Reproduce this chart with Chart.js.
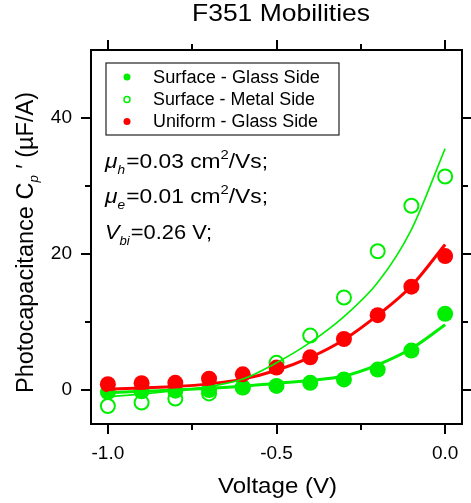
<!DOCTYPE html>
<html>
<head>
<meta charset="utf-8">
<script src="https://cdn.jsdelivr.net/npm/chart.js@4.4.1/dist/chart.umd.min.js"></script>
<style>
  html, body { margin: 0; padding: 0; background: #ffffff; }
  #c { display: block; }
</style>
</head>
<body>
<canvas id="c" width="471" height="503"></canvas>
<script>
// ---- data ----
const voltages = [-1.0, -0.9, -0.8, -0.7, -0.6, -0.5, -0.4, -0.3, -0.2, -0.1, 0.0];
const surfaceGlass = [-0.3, -0.2, -0.1, 0.0, 0.35, 0.6, 1.05, 1.55, 3.0, 5.8, 11.2];
const surfaceMetal = [-2.35, -1.85, -1.25, -0.5, 0.4, 4.0, 8.0, 13.6, 20.4, 27.1, 31.4];
const uniformGlass = [0.85, 1.0, 1.05, 1.65, 2.3, 3.3, 4.8, 7.5, 11.0, 15.2, 19.7];
const fitSurfaceGlass = [-0.4, -0.2, 0.0, 0.25, 0.55, 1.0, 1.4, 2.05, 3.7, 6.1, 9.6];
const fitSurfaceMetal = [-1.0, -0.6, -0.1, 0.5, 1.6, 4.0, 7.0, 10.8, 15.8, 23.6, 35.5];
const fitUniformGlass = [0.1, 0.3, 0.5, 0.9, 1.6, 2.9, 4.8, 7.4, 11.0, 15.3, 21.4];
const seriesNames = ['Surface - Glass Side', 'Surface - Metal Side', 'Uniform - Glass Side'];
const xTickValues = [-1.0, -0.5, 0.0];
const xMinorTicks = [-0.75, -0.25];
const yTickValues = [0, 20, 40];
const yMinorTicks = [10, 30];

const GREEN = '#00ee00';
const RED = '#ff0000';
const FONT = '"Liberation Sans", Arial, sans-serif';

const pts = arr => voltages.map((v, i) => ({ x: v, y: arr[i] }));

function richWidth(ctx, segs) {
  let w = 0;
  for (const s of segs) {
    ctx.font = (s[2] ? 'italic ' : '') + s[1] + 'px ' + FONT;
    w += ctx.measureText(s[0]).width + (s[4] || 0);
  }
  return w;
}
// draws rich text starting at x (or centred when align === 'center'),
// stretched horizontally so that it spans targetW pixels
function drawRich(ctx, x, y, segs, targetW, align) {
  const w = richWidth(ctx, segs);
  const sx = targetW ? targetW / w : 1;
  ctx.save();
  const startX = align === 'center' ? x - (w * sx) / 2 : x;
  ctx.translate(startX, y);
  ctx.scale(sx, 1);
  ctx.textBaseline = 'alphabetic';
  ctx.textAlign = 'left';
  let cx = 0;
  for (const s of segs) {
    ctx.font = (s[2] ? 'italic ' : '') + s[1] + 'px ' + FONT;
    ctx.fillText(s[0], cx, s[3] || 0);
    cx += ctx.measureText(s[0]).width + (s[4] || 0);
  }
  ctx.restore();
}

const decor = {
  id: 'decor',
  afterDraw(chart) {
    const ctx = chart.ctx;
    const a = chart.chartArea;
    const xs = chart.scales.x, ys = chart.scales.y;
    ctx.save();
    ctx.fillStyle = '#000';
    ctx.strokeStyle = '#000';
    // frame
    ctx.lineWidth = 2;
    ctx.strokeRect(a.left, a.top, a.right - a.left, a.bottom - a.top);
    // ticks
    const major = 10, minor = 6;
    ctx.lineWidth = 2;
    ctx.beginPath();
    const xt = (v, len) => {
      const px = Math.round(xs.getPixelForValue(v));
      ctx.moveTo(px, a.bottom); ctx.lineTo(px, a.bottom + len);
      ctx.moveTo(px, a.top); ctx.lineTo(px, a.top - len);
    };
    const yt = (v, len) => {
      const py = Math.round(ys.getPixelForValue(v));
      ctx.moveTo(a.left, py); ctx.lineTo(a.left - len, py);
      ctx.moveTo(a.right, py); ctx.lineTo(a.right + len, py);
    };
    xTickValues.forEach(v => xt(v, major));
    xMinorTicks.forEach(v => xt(v, minor));
    yTickValues.forEach(v => yt(v, major));
    yMinorTicks.forEach(v => yt(v, minor));
    ctx.stroke();

    // title
    drawRich(ctx, 281, 21, [['F351 Mobilities', 24, false, 0]], 178, 'center');
    // x title
    drawRich(ctx, 277.5, 493, [['Voltage (V)', 22, false, 0]], 119, 'center');
    // y title
    ctx.save();
    ctx.translate(33, 242.5);
    ctx.rotate(-Math.PI / 2);
    drawRich(ctx, 0, 0, [['Photocapacitance C', 23, false, 0], ['p', 13, true, 5], [' \u2032 (\u00b5F/A)', 23, false, 0]], 301, 'center');
    ctx.restore();

    // legend
    ctx.lineWidth = 1.2;
    ctx.strokeStyle = '#222';
    ctx.strokeRect(106, 63, 233, 72);
    const rows = [77, 99.5, 121.5];
    const mx = 127;
    ctx.lineWidth = 1.5;
    ctx.fillStyle = GREEN;
    ctx.beginPath(); ctx.arc(mx, rows[0], 3.5, 0, Math.PI * 2); ctx.fill();
    ctx.strokeStyle = GREEN;
    ctx.beginPath(); ctx.arc(mx, rows[1], 3, 0, Math.PI * 2); ctx.stroke();
    ctx.fillStyle = RED;
    ctx.beginPath(); ctx.arc(mx, rows[2], 3.5, 0, Math.PI * 2); ctx.fill();
    ctx.fillStyle = '#000';
    const legendBase = [82.5, 104.8, 127];
    const legendW = [167, 162, 165];
    seriesNames.forEach((n, i) => drawRich(ctx, 153, legendBase[i], [[n, 18, false, 0]], legendW[i]));

    // annotation
    ctx.fillStyle = '#000';
    drawRich(ctx, 105, 168, [['\u03bc', 20, true, 0, 0], ['h', 12, true, 6, 1], ['=0.03 cm', 20, false, 0], ['2', 13, false, -9], ['/Vs;', 20, false, 0]], 163);
    drawRich(ctx, 105, 203, [['\u03bc', 20, true, 0, 0], ['e', 12, true, 6, 1], ['=0.01 cm', 20, false, 0], ['2', 13, false, -9], ['/Vs;', 20, false, 0]], 163);
    drawRich(ctx, 105, 239, [['V', 20, true, 0, 0], ['bi', 12, true, 6, 1], ['=0.26 V;', 20, false, 0]], 107);
    ctx.restore();
  }
};

new Chart(document.getElementById('c'), {
  type: 'scatter',
  data: {
    datasets: [
      { label: 'fit metal', data: pts(fitSurfaceMetal), showLine: true, pointRadius: 0, borderColor: GREEN,
        borderWidth: 1.6, cubicInterpolationMode: 'monotone' },
      { label: 'fit uniform', data: pts(fitUniformGlass), showLine: true, pointRadius: 0, borderColor: RED,
        borderWidth: 3, cubicInterpolationMode: 'monotone' },
      { label: 'fit glass', data: pts(fitSurfaceGlass), showLine: true, pointRadius: 0, borderColor: GREEN,
        borderWidth: 3, cubicInterpolationMode: 'monotone' },
      { label: seriesNames[2], data: pts(uniformGlass), showLine: false, pointRadius: 8, pointHoverRadius: 8,
        pointBorderWidth: 0, pointBackgroundColor: RED, pointBorderColor: RED },
      { label: seriesNames[0], data: pts(surfaceGlass), showLine: false, pointRadius: 8, pointHoverRadius: 8,
        pointBorderWidth: 0, pointBackgroundColor: GREEN, pointBorderColor: GREEN },
      { label: seriesNames[1], data: pts(surfaceMetal), showLine: false, pointRadius: 7, pointHoverRadius: 7,
        pointBorderWidth: 2, pointBorderColor: GREEN, pointBackgroundColor: 'rgba(0,0,0,0)' }
    ]
  },
  options: {
    responsive: false,
    animation: false,
    devicePixelRatio: 1,
    layout: { padding: { top: 50, right: 6, left: 0, bottom: 0 } },
    plugins: { legend: { display: false }, tooltip: { enabled: false }, title: { display: false } },
    scales: {
      x: {
        type: 'linear', min: -1.05, max: 0.05,
        afterFit: s => { s.height = 79; },
        afterBuildTicks: s => { s.ticks = xTickValues.map(v => ({ value: v })); },
        grid: { display: false }, border: { display: false },
        ticks: { color: '#000', font: { size: 19, family: FONT }, padding: 10, maxRotation: 0,
          callback: v => v.toFixed(1) }
      },
      y: {
        type: 'linear', min: -5, max: 50,
        afterFit: s => { s.width = 91; },
        afterBuildTicks: s => { s.ticks = yTickValues.map(v => ({ value: v })); },
        grid: { display: false }, border: { display: false },
        ticks: { color: '#000', font: { size: 19, family: FONT }, padding: 11,
          callback: v => String(v) }
      }
    }
  },
  plugins: [decor]
});
</script>
</body>
</html>
